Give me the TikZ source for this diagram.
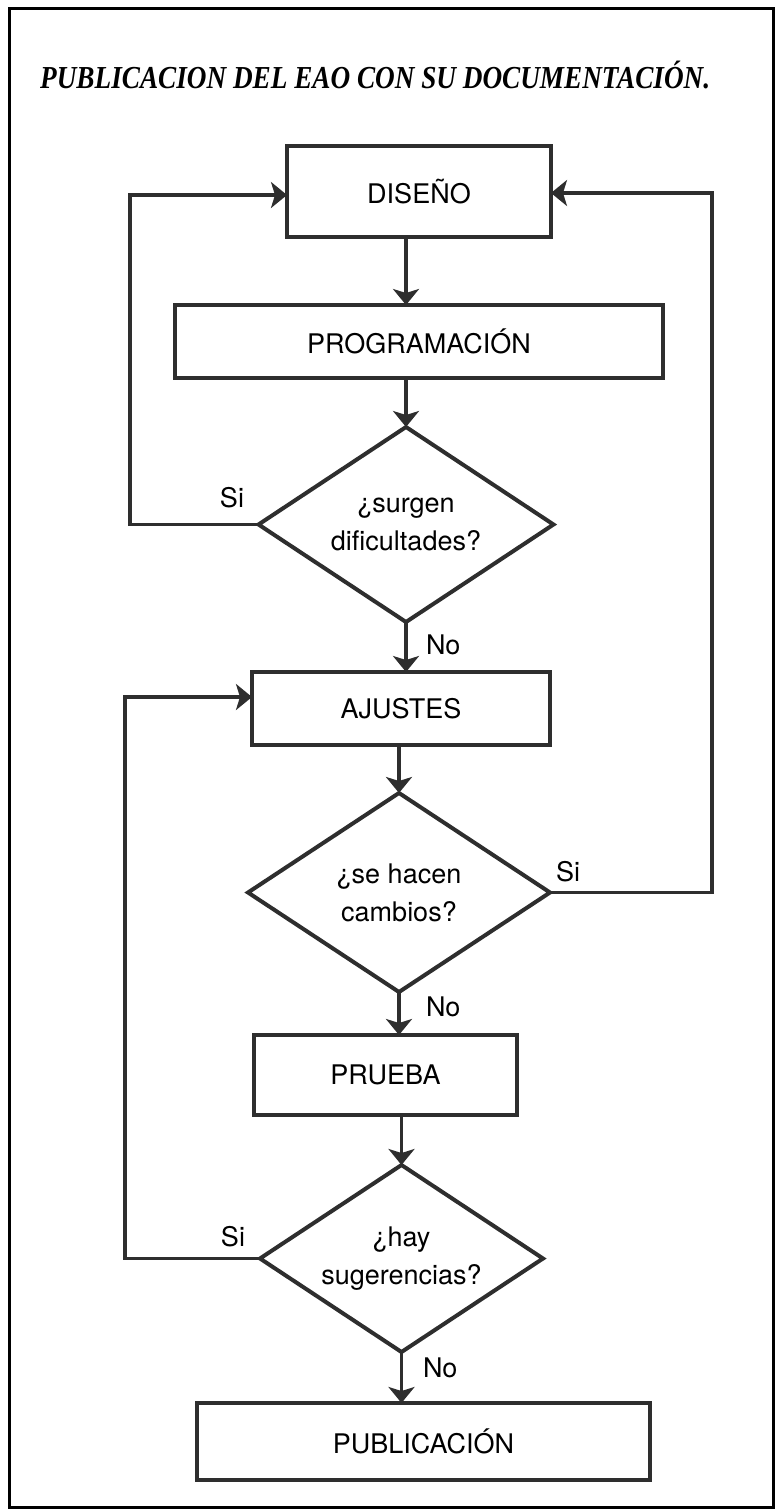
\documentclass[tikz,border=0pt]{standalone}
\usepackage{fontspec}
\setmainfont{TeX Gyre Heros}
\newfontfamily\titlefont{Liberation Serif}
\usepackage{graphicx}
\usetikzlibrary{arrows.meta,positioning,shapes.geometric}
\definecolor{flowInk}{HTML}{2E2E2E}
\definecolor{flowFrame}{HTML}{000000}

\begin{document}
\begin{tikzpicture}[
  x=1pt,y=-1pt,
  font=\fontsize{27}{38}\selectfont,
  box/.style 2 args={draw=flowInk,line width=4.5pt,rectangle,minimum width=#1,minimum height=#2,inner sep=0pt,outer sep=0pt},
  ask/.style 2 args={diamond,draw=flowInk,line width=4pt,minimum width=#1,minimum height=#2,aspect=1.5,inner sep=0pt,outer sep=0pt,align=center},
  lbl/.style={inner sep=0pt,outer sep=0pt},
  ttl/.style={font=\titlefont\bfseries\itshape\fontsize{32}{36}\selectfont,inner sep=0pt},
  arr/.style={-{Stealth[length=16pt,width=26pt,inset=4pt]},line width=3.5pt,draw=flowInk}
]
  \useasboundingbox (0,0) rectangle (781,1510);
  \draw[flowFrame,line width=3pt] (9,8) rectangle (773,1507);
  \node[ttl,anchor=base west] (title) at (40,88) {\resizebox{670pt}{\height}{PUBLICACION DEL EAO CON SU DOCUMENTACIÓN.}};

  \node[box={264pt}{91pt}] (dis) at (419,191.5) {DISEÑO};
  \node[box={488pt}{73pt},below=68pt of dis] (prog) {PROGRAMACIÓN};
  \node[ask={295pt}{195pt},below=49pt of prog,xshift=-13pt] (d1) {¿surgen\\dificultades?};
  \node[box={298pt}{73pt},below=50pt of d1,xshift=-5pt] (aju) {AJUSTES};
  \node[ask={302pt}{199pt},below=48pt of aju,xshift=-2pt] (d2) {¿se hacen\\cambios?};
  \node[box={263pt}{80pt},below=43pt of d2,xshift=-13.5pt] (pru) {PRUEBA};
  \node[ask={283pt}{187pt},below=50pt of pru,xshift=16pt] (d3) {¿hay\\sugerencias?};
  \node[box={453pt}{77pt},below=51pt of d3,xshift=22pt] (pub) {PUBLICACIÓN};

  \node[lbl,above left=16.5pt and 14.5pt of d1.west] (si1) {Si};
  \node[lbl,below right=13pt and 20pt of d1.south] (no1) {No};
  \node[lbl,above right=10.5pt and 6pt of d2.east] (si2) {Si};
  \node[lbl,below right=5pt and 27pt of d2.south] (no2) {No};
  \node[lbl,above left=11.5pt and 15pt of d3.west] (si3) {Si};
  \node[lbl,below right=6pt and 21.5pt of d3.south] (no3) {No};

  \draw[arr] (dis.south -| d1.north) -- (prog.north -| d1.north);
  \draw[arr] (prog.south -| d1.north) -- (d1.north);
  \draw[arr] (d1.south) -- (aju.north -| d1.south);
  \draw[arr] (aju.south -| d2.north) -- (d2.north);
  \draw[arr] (d2.south) -- (pru.north -| d2.south);
  \draw[arr] (pru.south -| d3.north) -- (d3.north);
  \draw[arr] (d3.south) -- (pub.north -| d3.south);

  \draw[arr] (d1.west) -| ([xshift=-157pt,yshift=-3.5pt]dis.west) -- ([yshift=-3.5pt]dis.west);
  \draw[arr] (d2.east) -| ([xshift=161pt,yshift=-1.5pt]dis.east) -- ([yshift=-1.5pt]dis.east);
  \draw[arr] (d3.west) -| ([xshift=-127pt,yshift=11.5pt]aju.west) -- ([yshift=11.5pt]aju.west);
\end{tikzpicture}
\end{document}
